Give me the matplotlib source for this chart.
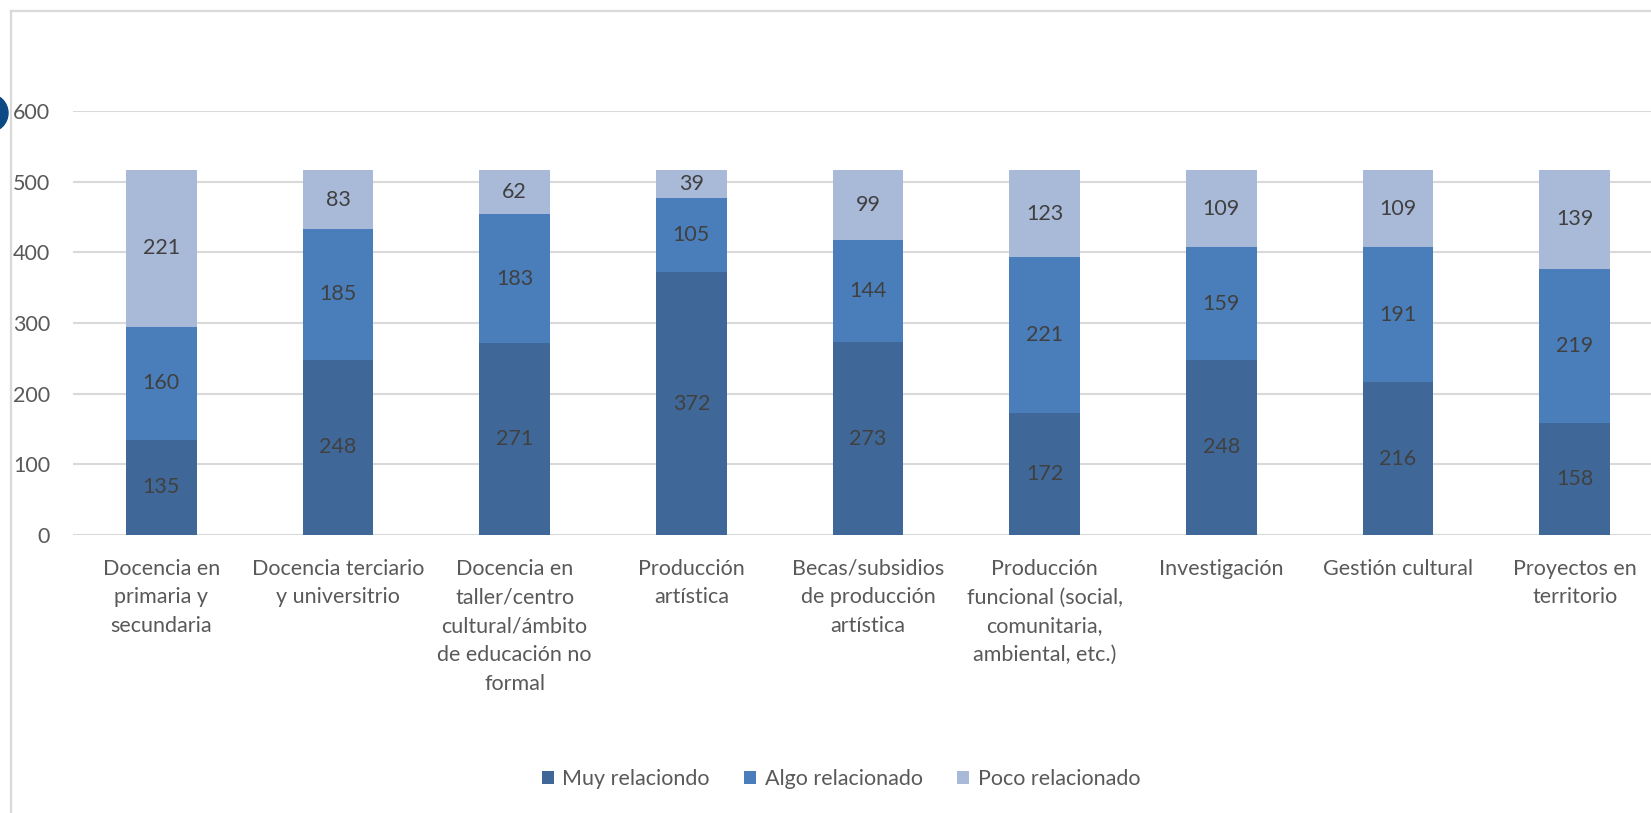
import matplotlib
matplotlib.use("Agg")
import matplotlib.pyplot as plt
from matplotlib.patches import Ellipse
from matplotlib.lines import Line2D
import numpy as np

categories = [
    "Docencia en\nprimaria y\nsecundaria",
    "Docencia terciario\ny universitrio",
    "Docencia en\ntaller/centro\ncultural/ámbito\nde educación no\nformal",
    "Producción\nartística",
    "Becas/subsidios\nde producción\nartística",
    "Producción\nfuncional (social,\ncomunitaria,\nambiental, etc.)",
    "Investigación",
    "Gestión cultural",
    "Proyectos en\nterritorio",
]
muy = [135, 248, 271, 372, 273, 172, 248, 216, 158]
algo = [160, 185, 183, 105, 144, 221, 159, 191, 219]
poco = [221, 83, 62, 39, 99, 123, 109, 109, 139]
series_names = ["Muy relaciondo", "Algo relacionado", "Poco relacionado"]
y_ticks = [0, 100, 200, 300, 400, 500, 600]

colors = ["#3F6899", "#4A7EBB", "#A9B9D8"]
FONT = "Lato"
FS = 15.5
plt.rcParams["font.family"] = [FONT, "DejaVu Sans"]

W, H = 1651, 813
fig = plt.figure(figsize=(W / 100, H / 100), dpi=100)

# plot area in pixel coordinates
left_px, right_px, top_px, bottom_px = 73, 1663, 111, 535
ax = fig.add_axes([left_px / W, 1 - bottom_px / H, (right_px - left_px) / W, (bottom_px - top_px) / H])

x = np.arange(len(categories))
bottom = np.zeros(len(categories))
for vals, c, name in zip([muy, algo, poco], colors, series_names):
    vals = np.array(vals)
    ax.bar(x, vals, 0.4, bottom=bottom, color=c, label=name, zorder=3, linewidth=0)
    for xi, b, v in zip(x, bottom, vals):
        ax.text(xi, b + v / 2, str(v), ha="center", va="center", fontsize=FS,
                color="#404040", zorder=4)
    bottom += vals

ax.set_xlim(-0.5, len(categories) - 0.5)
ax.set_ylim(0, 600)
ax.set_yticks(y_ticks)
ax.set_yticklabels([str(t) for t in y_ticks])
ax.yaxis.grid(True, color="#D9D9D9", linewidth=1.5, zorder=0)
ax.set_axisbelow(True)
for s in ax.spines.values():
    s.set_visible(False)
ax.tick_params(axis="y", length=0, pad=16.5, labelsize=FS, labelcolor="#595959")
ax.set_xticks(x)
ax.set_xticklabels(categories, fontsize=FS, color="#595959", linespacing=1.55, va="top")
ax.tick_params(axis="x", length=0, pad=17)

# legend
leg = fig.legend(loc="center", bbox_to_anchor=(841 / W, 1 - 779 / H), ncol=3, frameon=False,
                 fontsize=FS, handlelength=0.55, handleheight=0.55, handletextpad=0.4,
                 columnspacing=1.6, labelcolor="#595959")

# chart border (top and left)
fig.add_artist(Line2D([11 / W, 1], [1 - 11 / H, 1 - 11 / H], color="#D9D9D9", linewidth=1.6))
fig.add_artist(Line2D([11 / W, 11 / W], [0, 1 - 11 / H], color="#D9D9D9", linewidth=1.6))

# partially visible circle on left edge
fig.add_artist(Ellipse((-11 / W, 1 - 113 / H), 38 / W, 38 / H, color="#0C4A85", zorder=10))

fig.savefig("out.png", dpi=100)
